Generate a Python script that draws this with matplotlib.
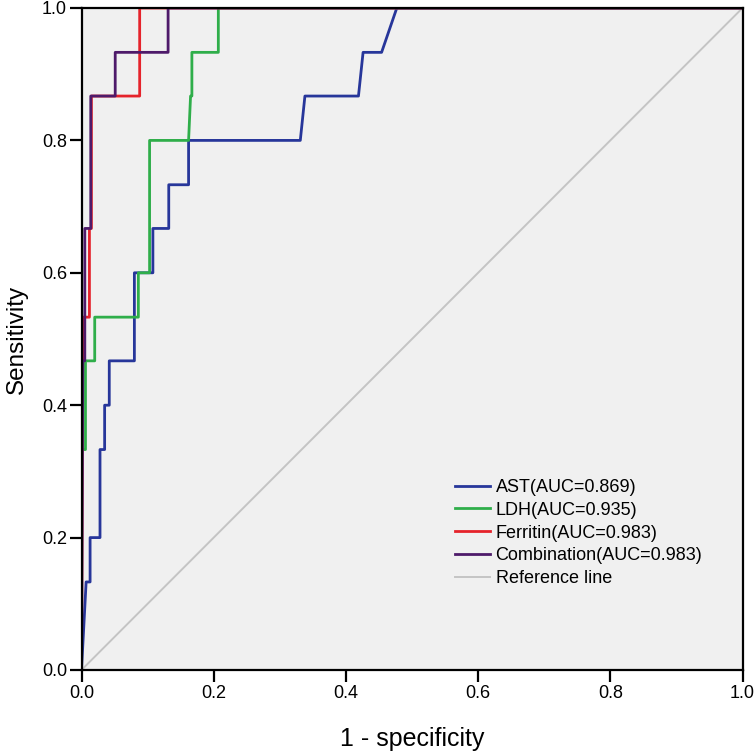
import matplotlib
matplotlib.use("Agg")
import matplotlib.pyplot as plt

plt.rcParams['font.family'] = ['Liberation Sans', 'DejaVu Sans']

# ROC curve vertices (1 - specificity, sensitivity)
ast_fpr = [0.0, 0.007, 0.013, 0.013, 0.028, 0.028, 0.035, 0.035, 0.042, 0.042, 0.080, 0.080,
           0.108, 0.108, 0.132, 0.132, 0.162, 0.162, 0.331, 0.338, 0.419, 0.426, 0.454, 0.477, 1.0]
ast_tpr = [0.0, 0.133, 0.133, 0.200, 0.200, 0.333, 0.333, 0.400, 0.400, 0.467, 0.467, 0.600,
           0.600, 0.667, 0.667, 0.733, 0.733, 0.800, 0.800, 0.867, 0.867, 0.933, 0.933, 1.0, 1.0]

ldh_fpr = [0.0, 0.0, 0.006, 0.006, 0.020, 0.020, 0.086, 0.086, 0.103, 0.103, 0.162, 0.165,
           0.167, 0.167, 0.207, 0.207, 1.0]
ldh_tpr = [0.0, 0.333, 0.333, 0.467, 0.467, 0.533, 0.533, 0.600, 0.600, 0.800, 0.800, 0.867,
           0.867, 0.933, 0.933, 1.0, 1.0]

fer_fpr = [0.0, 0.002, 0.012, 0.012, 0.015, 0.015, 0.088, 0.088, 1.0]
fer_tpr = [0.0, 0.533, 0.533, 0.667, 0.667, 0.867, 0.867, 1.0, 1.0]

comb_fpr = [0.0, 0.002, 0.005, 0.005, 0.014, 0.014, 0.051, 0.051, 0.131, 0.131, 1.0]
comb_tpr = [0.0, 0.467, 0.467, 0.667, 0.667, 0.867, 0.867, 0.933, 0.933, 1.0, 1.0]

labels = ["AST(AUC=0.869)", "LDH(AUC=0.935)", "Ferritin(AUC=0.983)",
          "Combination(AUC=0.983)", "Reference line"]
colors = ["#27369a", "#2fae4a", "#e5232b", "#4e1a6a", "#c4c4c4"]
ticks = [0.0, 0.2, 0.4, 0.6, 0.8, 1.0]

fig = plt.figure(figsize=(7.56, 7.51), dpi=100)
ax = fig.add_axes([81.5 / 756, 1 - 670 / 751, (742.5 - 81.5) / 756, (670 - 8) / 751])
ax.set_facecolor("#f0f0f0")

lw = 2.0
l1, = ax.plot(ast_fpr, ast_tpr, color=colors[0], lw=lw, label=labels[0])
l2, = ax.plot(ldh_fpr, ldh_tpr, color=colors[1], lw=lw, label=labels[1])
l3, = ax.plot(fer_fpr, fer_tpr, color=colors[2], lw=lw, label=labels[2])
l4, = ax.plot(comb_fpr, comb_tpr, color=colors[3], lw=lw, label=labels[3])
l5, = ax.plot([0, 1], [0, 1], color=colors[4], lw=1.4, label=labels[4], zorder=1.5)

ax.set_xlim(0, 1)
ax.set_ylim(0, 1)
ax.set_xticks(ticks)
ax.set_yticks(ticks)
ax.set_xticklabels([f"{t:.1f}" for t in ticks])
ax.set_yticklabels([f"{t:.1f}" for t in ticks])
ax.tick_params(direction="out", length=8.5, width=1.6, labelsize=13, pad=2, color="black")

for s in ax.spines.values():
    s.set_color("black")
    s.set_linewidth(1.6)

ax.set_xlabel("1 - specificity", fontsize=18, labelpad=18)
ax.set_ylabel("Sensitivity", fontsize=17.5, labelpad=10)

fig.legend(handles=[l1, l2, l3, l4, l5], labels=labels, loc="upper left",
           bbox_to_anchor=(455 / 756, 1 - 479 / 751), frameon=False, fontsize=13,
           handlelength=1.95, handletextpad=0.3, labelspacing=0.32, borderpad=0,
           borderaxespad=0)

fig.savefig("out.png", dpi=100)
